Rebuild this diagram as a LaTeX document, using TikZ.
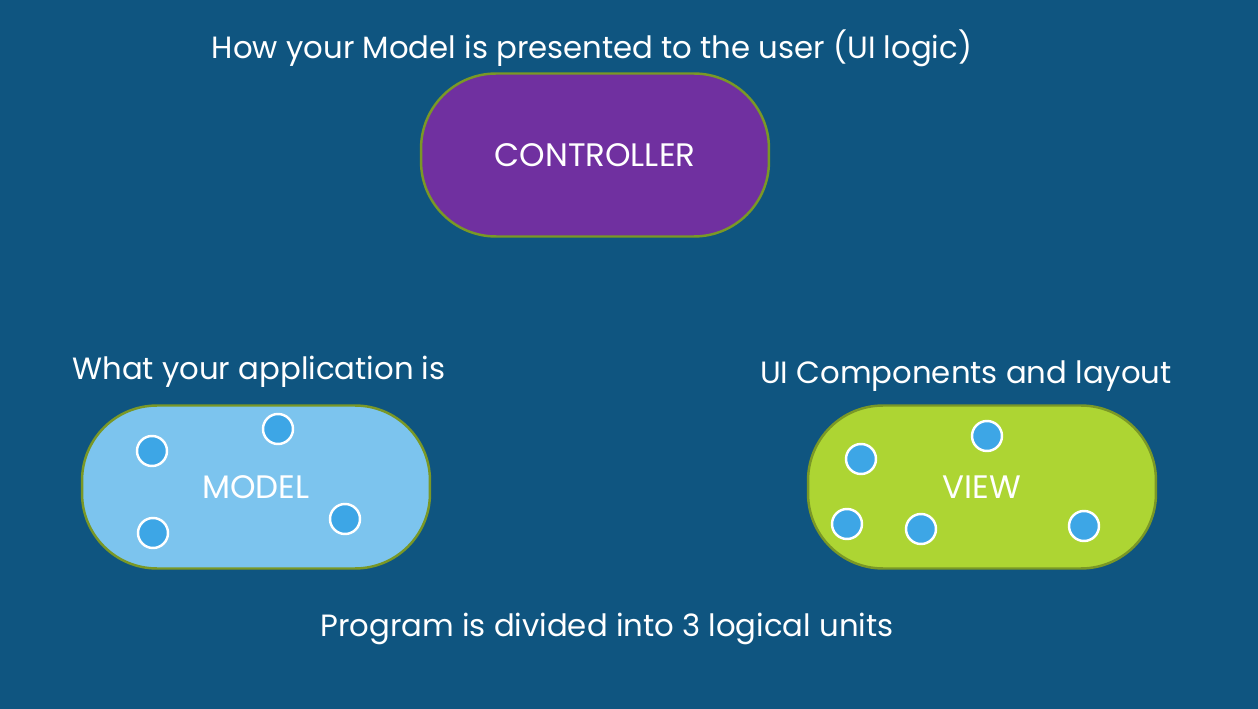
\documentclass[tikz,border=0pt]{standalone}
\usepackage{fontspec}
\setmainfont{Poppins}
\definecolor{bgblue}{RGB}{15,85,128}
\definecolor{ctrlpurple}{RGB}{112,48,160}
\definecolor{modelblue}{RGB}{124,196,238}
\definecolor{viewgreen}{RGB}{173,213,51}
\definecolor{rimgreen}{RGB}{122,152,38}
\definecolor{dotblue}{RGB}{61,166,230}

\begin{document}
\begin{tikzpicture}[x=0.02cm, y=-0.02cm,
	every node/.style={font=\fontsize{17.5}{21}\selectfont, text=white},
	unit/.style={draw=rimgreen, line width=1.4pt, rounded corners=1.5cm, minimum width=6.96cm, minimum height=3.26cm, font=\fontsize{18.5}{22}\selectfont},
	dot/.style={circle, fill=dotblue, draw=white, line width=1.4pt, minimum size=0.6cm, inner sep=0pt}]
	\fill[bgblue] (0,0) rectangle (1258,709);
	\useasboundingbox (0,0) rectangle (1258,709);
	% the three units
	\node[unit, fill=ctrlpurple] (controller) at (595,155) {CONTROLLER};
	\node[unit, fill=modelblue] (model) at (256,487) {MODEL};
	\node[unit, fill=viewgreen] (view) at (982,487) {VIEW};
	% captions
	\node (ctrltext) at (592,48) {How your Model is presented to the user (UI logic)};
	\node (modeltext) at (259,372) {What your application is};
	\node (viewtext) at (966,376) {UI Components and layout};
	\node (bottomtext) at (607,629) {Program is divided into 3 logical units};
	% objects
	\foreach \px/\py [count=\i] in {152/451, 278/429, 345/519, 153/533}
		\node[dot] (m\i) at (\px,\py) {};
	\foreach \px/\py [count=\i] in {861/459, 987/436, 847/524, 921/529, 1084/526}
		\node[dot] (v\i) at (\px,\py) {};
\end{tikzpicture}
\end{document}
